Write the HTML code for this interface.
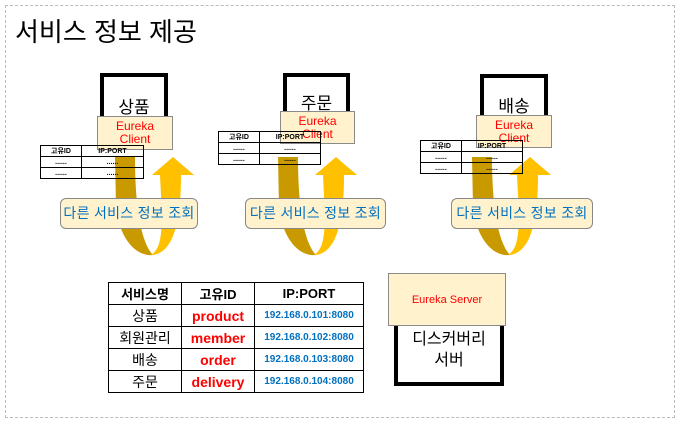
<!DOCTYPE html>
<html><head><meta charset="utf-8"><style>
body{margin:0;width:680px;height:423px;background:#fff;overflow:hidden;font-family:"Liberation Sans","Noto Sans CJK KR",sans-serif;position:relative}
.a{position:absolute;box-sizing:border-box}
.box{border:4px solid #000;border-bottom:none;background:#fff;text-align:center;font-size:17px;padding-top:16px}
.ec{background:#fff2cc;border:1px solid #8a8a8a;color:#f00;font-size:12px;text-align:center;line-height:13px;padding-top:3px}
.lbl{background:#fff2cc;border:1px solid #888;border-radius:6px;color:#0070c0;font-size:14px;text-align:center;line-height:29px;white-space:nowrap;letter-spacing:0.3px}
table.s{position:absolute;border-collapse:collapse;font-size:7px;font-weight:bold}
table.s td{border:1px solid #000;height:10px;padding:0;text-align:center;line-height:9px}
table.m{position:absolute;border-collapse:collapse;font-weight:bold;font-size:13px}
table.m td{border:1px solid #000;height:21px;padding:0;text-align:center}
</style></head><body>
<div class="a" style="left:5px;top:5px;width:670px;height:413px;border:1px dashed #bbb"></div>
<div class="a" style="left:15px;top:12px;font-size:26px">서비스 정보 제공</div>

<svg class="a" style="left:0;top:0" width="680" height="423">
<defs>
<g id="arr">
<path d="M-2,0 L18,0 C18,50 24,85 36,98 C18,100 2,80 -1,50 Z" fill="#c99a00"/>
<path d="M34,98 C48,90 45,60 43,18 L35,18 L56,0 L77,18 L64,18 C64,60 58,95 36,98 Z" fill="#ffc000"/>
</g>
</defs>
<use href="#arr" x="117" y="157"/>
<use href="#arr" x="280" y="157"/>
<use href="#arr" x="474" y="157"/>
</svg>

<div class="a box" style="left:100px;top:73px;width:68px;height:44px">상품</div>
<div class="a box" style="left:283px;top:73px;width:67px;height:40px;padding-top:12px">주문</div>
<div class="a box" style="left:480px;top:74px;width:68px;height:42px;padding-top:14px">배송</div>

<div class="a ec" style="left:97px;top:116px;width:76px;height:34px">Eureka<br>Client</div>
<div class="a ec" style="left:280px;top:111px;width:75px;height:33px">Eureka<br>Client</div>
<div class="a ec" style="left:476px;top:115px;width:76px;height:33px">Eureka<br>Client</div>

<table class="s" style="left:40px;top:145px;width:104px"><tr><td style="width:40px">고유ID</td><td>IP:PORT</td></tr><tr><td>......</td><td>......</td></tr><tr><td>......</td><td>......</td></tr></table>
<table class="s" style="left:218px;top:131px;width:103px"><tr><td style="width:40px">고유ID</td><td>IP:PORT</td></tr><tr><td>......</td><td>......</td></tr><tr><td>......</td><td>......</td></tr></table>
<table class="s" style="left:420px;top:140px;width:103px"><tr><td style="width:40px">고유ID</td><td>IP:PORT</td></tr><tr><td>......</td><td>......</td></tr><tr><td>......</td><td>......</td></tr></table>

<div class="a lbl" style="left:60px;top:198px;width:138px;height:31px">다른 서비스 정보 조회</div>
<div class="a lbl" style="left:245px;top:198px;width:141px;height:31px">다른 서비스 정보 조회</div>
<div class="a lbl" style="left:451px;top:198px;width:142px;height:31px">다른 서비스 정보 조회</div>

<table class="m" style="left:108px;top:282px;width:256px">
<tr><td style="width:72px">서비스명</td><td style="width:72px">고유ID</td><td>IP:PORT</td></tr>
<tr><td style="font-weight:normal;font-size:14px">상품</td><td style="color:#f00;font-size:14px">product</td><td style="color:#0070c0;font-size:10px">192.168.0.101:8080</td></tr>
<tr><td style="font-weight:normal;font-size:14px">회원관리</td><td style="color:#f00;font-size:14px">member</td><td style="color:#0070c0;font-size:10px">192.168.0.102:8080</td></tr>
<tr><td style="font-weight:normal;font-size:14px">배송</td><td style="color:#f00;font-size:14px">order</td><td style="color:#0070c0;font-size:10px">192.168.0.103:8080</td></tr>
<tr><td style="font-weight:normal;font-size:14px">주문</td><td style="color:#f00;font-size:14px">delivery</td><td style="color:#0070c0;font-size:10px">192.168.0.104:8080</td></tr>
</table>

<div class="a" style="left:394px;top:320px;width:110px;height:66px;border:4px solid #000;border-top:none;text-align:center;font-size:16px;line-height:21px;padding-top:9px">디스커버리<br>서버</div>
<div class="a ec" style="left:388px;top:273px;width:118px;height:53px;padding-top:20px;font-size:11px">Eureka Server</div>
</body></html>
